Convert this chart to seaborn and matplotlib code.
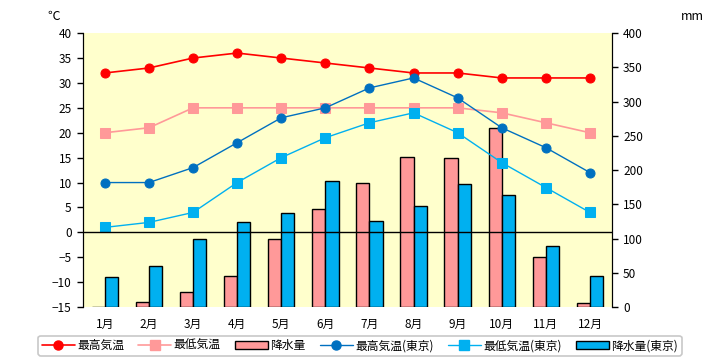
import pandas as pd
import matplotlib.pyplot as plt
import seaborn as sns
import numpy as np
from matplotlib.lines import Line2D
from matplotlib.patches import Patch

# data
months = ['1月', '2月', '3月', '4月', '5月', '6月', '7月', '8月', '9月', '10月', '11月', '12月']
max_temp = [32, 33, 35, 36, 35, 34, 33, 32, 32, 31, 31, 31]
min_temp = [20, 21, 25, 25, 25, 25, 25, 25, 25, 24, 22, 20]
max_tokyo = [10, 10, 13, 18, 23, 25, 29, 31, 27, 21, 17, 12]
min_tokyo = [1, 2, 4, 10, 15, 19, 22, 24, 20, 14, 9, 4]
rain = [0, 7, 22, 45, 100, 143, 181, 219, 217, 262, 73, 6]
rain_tokyo = [44, 60, 99, 124, 137, 184, 125, 147, 179, 163, 89, 45]

labels = ['最高気温', '最低気温', '降水量', '最高気温(東京)', '最低気温(東京)', '降水量(東京)']
c_red, c_pink, c_blue, c_cyan = '#FF0000', '#FF9999', '#0070C0', '#00B0F0'

sns.set_style('white')
plt.rcParams['font.family'] = ['Noto Sans CJK JP', 'DejaVu Sans']
plt.rcParams['text.color'] = 'black'

fig = plt.figure(figsize=(7.2, 3.6), dpi=100)
ax = fig.add_axes([0.115, 0.147, 0.735, 0.761])
ax.set_facecolor('#FFFFCC')

# bars (mm) on the base axis, shown on the right side
rain_df = pd.DataFrame({
    'month': months * 2,
    'mm': rain + rain_tokyo,
    'series': ['降水量'] * 12 + ['降水量(東京)'] * 12,
})
sns.barplot(data=rain_df, x='month', y='mm', hue='series', order=months,
            palette=[c_pink, c_cyan], saturation=1, width=0.6, edgecolor='black',
            linewidth=1, ax=ax, legend=False)
ax.set_ylim(0, 400)
ax.set_xlim(-0.5, 11.5)
ax.set_yticks(range(0, 401, 50))
ax.set_xlabel('')
ax.set_ylabel('')

# temperatures on the twin axis, shown on the left
ax_t = ax.twinx()
x = np.arange(len(months))
sns.lineplot(x=x, y=max_temp, color=c_red, marker='o', markersize=6.5, mec=c_red, lw=1.2, ax=ax_t)
sns.lineplot(x=x, y=min_temp, color=c_pink, marker='s', markersize=6.5, mec=c_pink, lw=1.2, ax=ax_t)
sns.lineplot(x=x, y=max_tokyo, color=c_blue, marker='o', markersize=6.5, mec=c_blue, lw=1.0, ax=ax_t)
sns.lineplot(x=x, y=min_tokyo, color=c_cyan, marker='s', markersize=6.5, mec=c_cyan, lw=1.0, ax=ax_t)
ax_t.axhline(0, color='black', lw=1)
ax_t.set_ylim(-15, 40)
ax_t.set_yticks(range(-15, 41, 5))
ax_t.set_xlim(-0.5, 11.5)

# twinx moves ticks around, so fix sides afterwards
ax.yaxis.tick_right()
ax_t.yaxis.tick_left()

for a in (ax, ax_t):
    a.spines['top'].set_visible(False)
    a.spines['bottom'].set_visible(False)
    a.spines['left'].set_visible(True)
    a.spines['right'].set_visible(True)
    a.spines['left'].set_color('black')
    a.spines['right'].set_color('black')
    a.tick_params(axis='y', length=4, width=1, color='black', labelcolor='black',
                  labelsize=8.5, pad=4, direction='out')
ax.tick_params(axis='x', length=0, labelsize=8.5, labelcolor='black', pad=8)

fig.text(0.075, 0.955, '℃', fontsize=9, ha='center', va='center')
fig.text(0.962, 0.955, 'mm', fontsize=9, ha='center', va='center')

handles = [
    Line2D([], [], color=c_red, marker='o', markersize=6.5, lw=1.2),
    Line2D([], [], color=c_pink, marker='s', markersize=6.5, lw=1.2),
    Patch(facecolor=c_pink, edgecolor='black'),
    Line2D([], [], color=c_blue, marker='o', markersize=6.5, lw=1.0),
    Line2D([], [], color=c_cyan, marker='s', markersize=6.5, lw=1.0),
    Patch(facecolor=c_cyan, edgecolor='black'),
]
leg = fig.legend(handles, labels, loc='center', bbox_to_anchor=(0.5, 0.04), ncol=6,
                 fontsize=8.5, frameon=True, fancybox=True, handlelength=2.8, handletextpad=0.2,
                 columnspacing=1.2, borderpad=0.3)
leg.get_frame().set_edgecolor('#BBBBBB')
leg.get_frame().set_linewidth(1.2)

fig.savefig('out.png', dpi=100)
